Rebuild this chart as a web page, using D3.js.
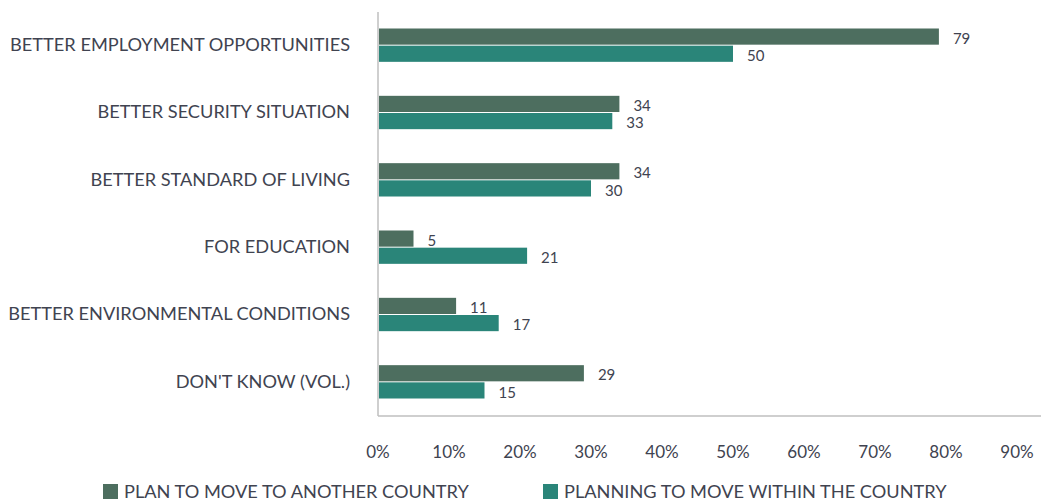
<!DOCTYPE html>
<html>
<head>
<meta charset="utf-8">
<script src="https://cdn.jsdelivr.net/npm/d3@7"></script>
<style>
  body { margin: 0; background: #fff; }
  text { font-family: Lato, "Open Sans", sans-serif; fill: #404350; }
</style>
</head>
<body>
<div id="chart"></div>
<script>
// chart data
const categories = [
  "BETTER EMPLOYMENT OPPORTUNITIES",
  "BETTER SECURITY SITUATION",
  "BETTER STANDARD OF LIVING",
  "FOR EDUCATION",
  "BETTER ENVIRONMENTAL CONDITIONS",
  "DON'T KNOW (VOL.)"
];
const seriesNames = ["PLAN TO MOVE TO ANOTHER COUNTRY", "PLANNING TO MOVE WITHIN THE COUNTRY"];
const planAbroad = [79, 34, 34, 5, 11, 29];
const planWithin = [50, 33, 30, 21, 17, 15];
const xTicks = [0, 10, 20, 30, 40, 50, 60, 70, 80, 90];

const width = 1041;
const height = 502;
const margin = {left: 378, right: 24, top: 12, bottom: 86};
const colors = ["#4d6e5f", "#2a8579"];

const svg = d3.select("#chart")
  .append("svg")
  .attr("width", width)
  .attr("height", height);

// scales
let xScale = d3.scaleLinear()
  .domain([0, 90])
  .range([margin.left, width - margin.right]);

let yScale = d3.scaleBand()
  .domain(categories)
  .range([margin.top, height - margin.bottom])
  .paddingInner(0.49)
  .paddingOuter(0.245);

let subScale = d3.scaleBand()
  .domain([0, 1])
  .range([0, yScale.bandwidth()]);

const rows = categories.map((c, i) => ({name: c, vals: [planAbroad[i], planWithin[i]]}));

// frame lines
svg.append("line")
  .attr("x1", margin.left).attr("x2", margin.left)
  .attr("y1", margin.top).attr("y2", height - margin.bottom)
  .attr("stroke", "#bfbfbf").attr("stroke-width", 1.5);
svg.append("line")
  .attr("x1", margin.left).attr("x2", width)
  .attr("y1", height - margin.bottom).attr("y2", height - margin.bottom)
  .attr("stroke", "#bfbfbf").attr("stroke-width", 1.5);

// bars
const groups = svg.selectAll(".grp")
  .data(rows)
  .enter()
  .append("g")
    .attr("class", "grp")
    .attr("transform", d => `translate(0,${yScale(d.name)})`);

groups.selectAll("rect")
  .data(d => d.vals.map((v, k) => ({v, k})))
  .enter()
  .append("rect")
    .attr("x", xScale(0) + 1)
    .attr("y", d => subScale(d.k))
    .attr("width", d => xScale(d.v) - xScale(0) - 1)
    .attr("height", subScale.bandwidth() - 1)
    .attr("fill", d => colors[d.k]);

groups.selectAll(".val")
  .data(d => d.vals.map((v, k) => ({v, k})))
  .enter()
  .append("text")
    .attr("class", "val")
    .attr("x", d => xScale(d.v) + 14)
    .attr("y", d => subScale(d.k) + subScale.bandwidth() / 2 + 1.5)
    .attr("dy", "0.35em")
    .attr("font-size", "15px")
    .text(d => d.v);

// category labels
svg.selectAll(".cat")
  .data(categories)
  .enter()
  .append("text")
    .attr("class", "cat")
    .attr("x", 350)
    .attr("y", d => yScale(d) + yScale.bandwidth() / 2 - 1)
    .attr("dy", "0.35em")
    .attr("text-anchor", "end")
    .attr("font-size", "18.2px")
    .text(d => d);

// x tick labels
svg.selectAll(".tick")
  .data(xTicks)
  .enter()
  .append("text")
    .attr("class", "tick")
    .attr("x", d => xScale(d))
    .attr("y", 452)
    .attr("dy", "0.35em")
    .attr("text-anchor", "middle")
    .attr("font-size", "17px")
    .text(d => d + "%");

// legend
const legendX = [103, 543];
const legend = svg.selectAll(".leg")
  .data(seriesNames)
  .enter()
  .append("g")
    .attr("class", "leg")
    .attr("transform", (d, i) => `translate(${legendX[i]},484)`);
legend.append("rect")
  .attr("width", 15).attr("height", 15)
  .attr("fill", (d, i) => colors[i]);
legend.append("text")
  .attr("x", 21).attr("y", 8)
  .attr("dy", "0.35em")
  .attr("font-size", "18.2px")
  .text(d => d);
</script>
</body>
</html>
